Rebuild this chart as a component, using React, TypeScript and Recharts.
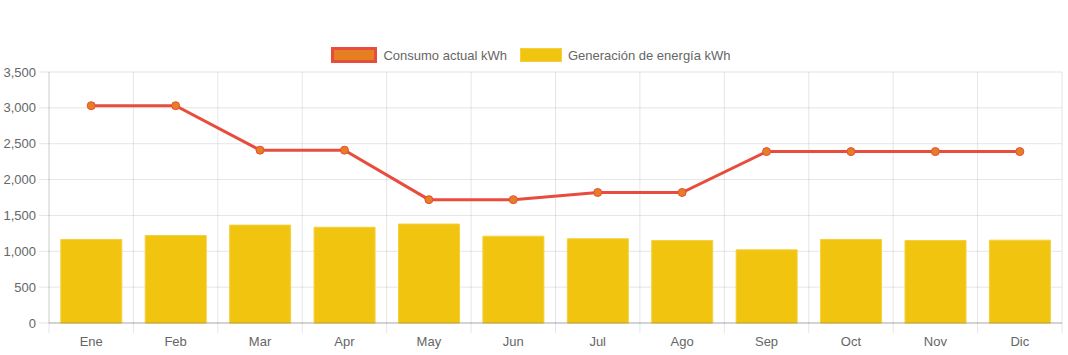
import React from "react";
import {
  ComposedChart,
  Bar,
  Line,
  XAxis,
  YAxis,
  CartesianGrid,
  Legend,
} from "recharts";

const months = ["Ene", "Feb", "Mar", "Apr", "May", "Jun", "Jul", "Ago", "Sep", "Oct", "Nov", "Dic"];
const consumo = [3030, 3030, 2410, 2410, 1720, 1720, 1820, 1820, 2390, 2390, 2390, 2390];
const generacion = [1165, 1220, 1365, 1335, 1380, 1210, 1175, 1150, 1020, 1165, 1150, 1155];
const yTicks = [0, 500, 1000, 1500, 2000, 2500, 3000, 3500];

const data = months.map((m, i) => ({
  month: m,
  consumo: consumo[i],
  generacion: generacion[i],
}));

const FONT = "'Liberation Sans', Arial, Helvetica, sans-serif";
const GRID = "rgba(0,0,0,0.1)";
const TICK_LEN = 10;
const LABEL_GAP = 14;

// category label + tick marks on the band edges (Chart.js offset grid style)
function MonthTick(props: any) {
  const { x, y, payload, index, visibleTicksCount, width } = props;
  const n = visibleTicksCount || months.length;
  const bw = (width || 1013) / n;
  return (
    <g>
      <line x1={x - bw / 2} x2={x - bw / 2} y1={y} y2={y + TICK_LEN} stroke={GRID} />
      {index === n - 1 && (
        <line x1={x + bw / 2} x2={x + bw / 2} y1={y} y2={y + TICK_LEN} stroke={GRID} />
      )}
      <text x={x} y={y + LABEL_GAP} dy="0.71em" textAnchor="middle" fill="#666" fontSize={13} fontFamily={FONT}>
        {payload.value}
      </text>
    </g>
  );
}

function LegendBox() {
  const item: React.CSSProperties = { display: "flex", alignItems: "center" };
  const label: React.CSSProperties = { marginLeft: 6, color: "#666", fontSize: 13, fontFamily: FONT };
  return (
    <div style={{ display: "flex", justifyContent: "center", height: 20, alignItems: "center" }}>
      <div style={item}>
        <span style={{ display: "inline-block", width: 40, height: 10, background: "#e67e22", border: "3px solid #e74c3c" }} />
        <span style={label}>Consumo actual kWh</span>
      </div>
      <div style={{ ...item, marginLeft: 13 }}>
        <span style={{ display: "inline-block", width: 40, height: 12, background: "#f1c40f", border: "1px solid #f4d03f" }} />
        <span style={label}>Generación de energía kWh</span>
      </div>
    </div>
  );
}

export default function App() {
  return (
    <div style={{ position: "absolute", left: 0, top: 0, background: "#fff" }}>
      <ComposedChart
        width={1068}
        height={355}
        data={data}
        margin={{ top: 52, right: 6, bottom: 0, left: 0 }}
        barCategoryGap="14%"
      >
        <CartesianGrid
          stroke={GRID}
          verticalCoordinatesGenerator={({ offset }: any) =>
            [...months.map((_, i) => i), months.length].map(
              (i) => offset.left + (i * offset.width) / months.length
            )
          }
        />
        <XAxis
          dataKey="month"
          tickLine={false}
          axisLine={{ stroke: "rgba(0,0,0,0.25)" }}
          tickSize={0}
          tickMargin={0}
          height={32}
          interval={0}
          tick={<MonthTick />}
        />
        <YAxis
          domain={[0, 3500]}
          ticks={yTicks}
          width={49}
          tickSize={10}
          tickMargin={3}
          tickLine={{ stroke: GRID }}
          axisLine={{ stroke: GRID }}
          tick={{ fill: "#666", fontSize: 13, fontFamily: FONT }}
          tickFormatter={(v: number) => v.toLocaleString("en-US")}
        />
        <Legend verticalAlign="top" wrapperStyle={{ top: 45 }} content={() => <LegendBox />} />
        <Bar
          dataKey="generacion"
          fill="#f1c40f"
          stroke="#f4d03f"
          strokeWidth={1}
          isAnimationActive={false}
        />
        <Line
          dataKey="consumo"
          type="linear"
          stroke="#e74c3c"
          strokeWidth={3}
          dot={{ r: 4, fill: "#e67e22", stroke: "#e74c3c", strokeWidth: 1 }}
          isAnimationActive={false}
        />
      </ComposedChart>
    </div>
  );
}
